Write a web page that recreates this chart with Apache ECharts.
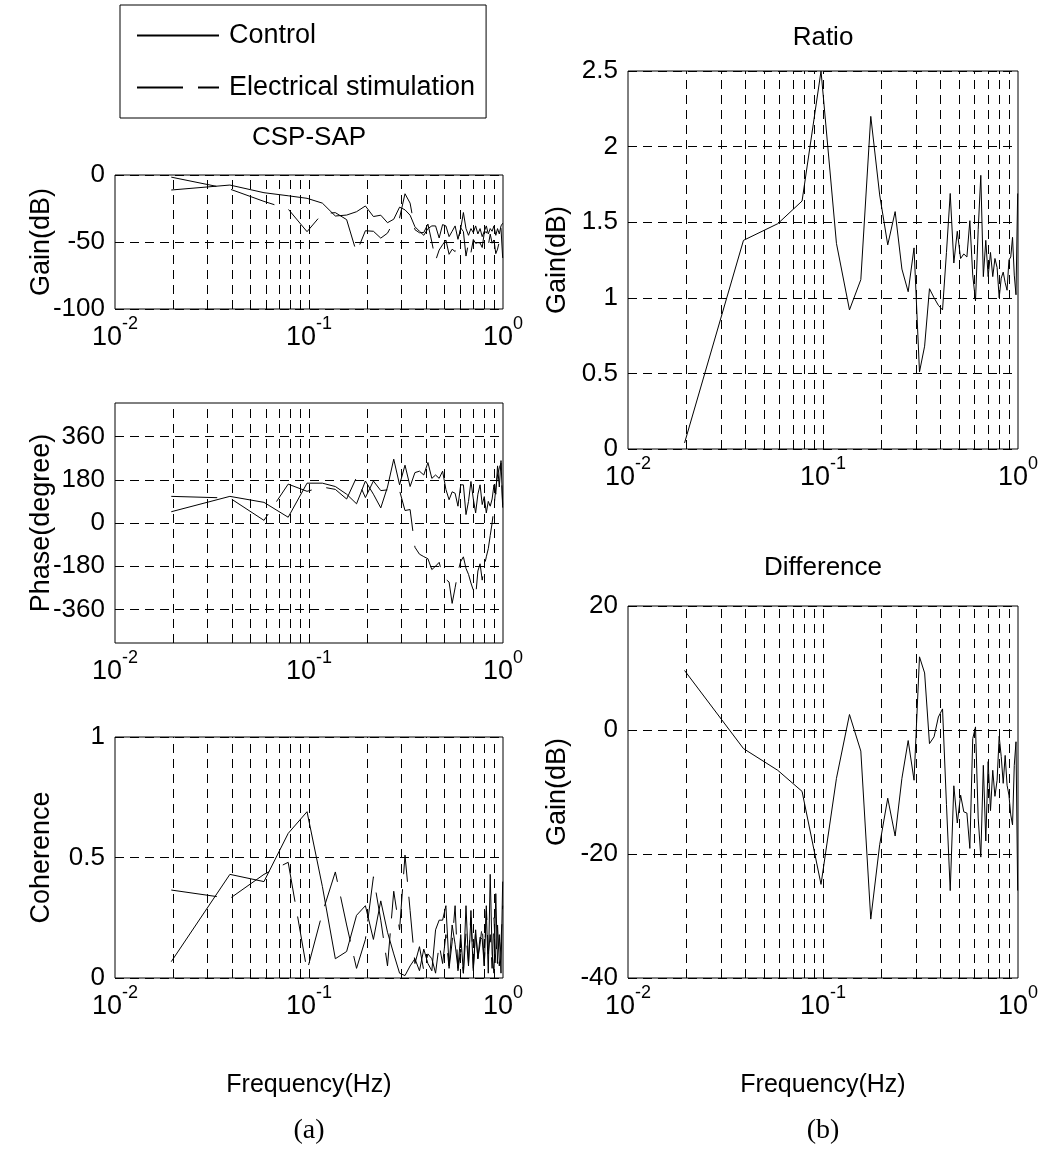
<!DOCTYPE html>
<html>
<head>
<meta charset="utf-8">
<title>CSP-SAP transfer function</title>
<script src="https://cdn.jsdelivr.net/npm/echarts@6/dist/echarts.min.js"></script>
<style>
  html, body { margin: 0; padding: 0; background: #fff; }
  #chart { width: 1044px; height: 1159px; }
</style>
</head>
<body>
<div id="chart"></div>
<script>
// frequency bins (Hz)
const freq = [0.0195, 0.0391, 0.0586, 0.0781, 0.0977, 0.1172, 0.1367, 0.1563, 0.1758, 0.1953,
  0.2148, 0.2344, 0.2539, 0.2734, 0.2930, 0.3125, 0.3320, 0.3516, 0.3711, 0.3906,
  0.4102, 0.4297, 0.4492, 0.4688, 0.4883, 0.5078, 0.5273, 0.5469, 0.5664, 0.5859,
  0.6055, 0.6250, 0.6445, 0.6641, 0.6836, 0.7031, 0.7227, 0.7422, 0.7617, 0.7813,
  0.8008, 0.8203, 0.8398, 0.8594, 0.8789, 0.8984, 0.9180, 0.9375, 0.9570, 0.9766, 0.9961]

const gainControl = [-11.2, -7.5, -13.2, -15.5, -17.4, -21, -30.6, -29.9, -27.4, -23.1,
  -31, -30, -35.6, -33, -24, -26, -30, -38.6, -42, -45,
  -40, -38, -38, -47, -37, -38, -46, -42, -38, -48,
  -40, -28, -40, -45, -40, -43, -38, -44, -40, -46,
  -42, -38, -44, -40, -42, -38, -45, -40, -44, -38, -36]
const gainStim = [-1.6, -10.5, -19.7, -25.4, -42.3, -28.8, -28.1, -33.3, -57.9, -41.6,
  -42, -47.1, -43.4, -34.7, -32, -14, -21, -40.8, -43.1, -42.9,
  -36.6, -50, -63.9, -56, -52, -48.5, -59.2, -55.4, -57.1, -49.4,
  -39.5, -42.2, -60.5, -50.7, -57.9, -48.1, -51, -50.5, -50.7, -54.1,
  -43, -42.3, -52.6, -44.1, -50.9, -48.5, -58.7, -55.3, -49.7, -39.9, -61.9]

const phaseControl = [47, 111, 86, 24, 166, 166, 152, 120, 80, 175,
  120, 63, 150, 266, 159, 241, 152, 210, 216, 200,
  252, 186, 200, 186, 216, 140, 97, 130, 124, 70,
  159, 159, 35, 90, 173, 100, 42, 120, 159, 77,
  110, 42, 90, 70, 100, 159, 120, 238, 150, 260, 77]
const phaseStim = [111, 104, 11, 162, 132, 150, 140, 100, 190, 106,
  175, 135, 138, 124, 135, 52, 56, -101, -130, -140,
  -149, -194, -180, -164, -219, -235, -246, -335, -270, -203,
  -160, -141, -189, -214, -250, -280, -307, -200, -170, -238,
  -180, -141, -107, -52, 0, 64, 146, 200, 230, 249, 64]

const cohControl = [0.068, 0.43, 0.40, 0.60, 0.69, 0.38, 0.08, 0.11, 0.26, 0.30,
  0.16, 0.32, 0.19, 0.10, 0.02, 0.01, 0.05, 0.08, 0.03, 0.12,
  0.06, 0.03, 0.20, 0.24, 0.24, 0.30, 0.05, 0.22, 0.14, 0.04,
  0.18, 0.02, 0.30, 0.06, 0.25, 0.03, 0.20, 0.08, 0.17, 0.16,
  0.05, 0.28, 0.02, 0.43, 0.10, 0.02, 0.35, 0.06, 0.18, 0.02, 0.40]
const cohStim = [0.365, 0.33, 0.43, 0.48, 0.03, 0.27, 0.44, 0.22, 0.04, 0.16,
  0.42, 0.24, 0.05, 0.36, 0.20, 0.51, 0.28, 0.06, 0.13, 0.03,
  0.10, 0.08, 0.02, 0.14, 0.06, 0.18, 0.04, 0.15, 0.30, 0.03,
  0.12, 0.02, 0.19, 0.05, 0.28, 0.04, 0.20, 0.08, 0.14, 0.22,
  0.05, 0.30, 0.10, 0.18, 0.04, 0.25, 0.06, 0.22, 0.05, 0.15, 0.30]

const ratio = [0.04, 1.38, 1.49, 1.64, 2.50, 1.36, 0.92, 1.12, 2.20, 1.68,
  1.35, 1.57, 1.19, 1.04, 1.33, 0.51, 0.68, 1.06, 1.0, 0.95,
  0.92, 1.30, 1.69, 1.23, 1.44, 1.26, 1.29, 1.27, 1.51, 1.15,
  0.98, 1.45, 1.81, 1.14, 1.38, 1.14, 1.30, 1.14, 1.26, 1.20,
  1.0, 1.13, 1.17, 1.10, 1.05, 1.25, 1.27, 1.40, 1.15, 1.02, 1.69]
const difference = [9.6, -3.0, -6.5, -9.9, -24.9, -7.8, 2.5, -3.4, -30.5, -18.5,
  -11.0, -17.1, -7.8, -1.7, -8.1, 11.8, 9.2, -2.2, -1.1, 2.1,
  3.4, -12, -25.9, -9.0, -15.0, -10.5, -13.2, -13.4, -19.1, -1.4,
  0.5, -14.2, -20.5, -5.7, -17.9, -5.1, -13.0, -6.5, -10.7, -8.1,
  -1.0, -4.3, -8.6, -4.1, -8.9, -10.5, -13.7, -15.3, -5.7, -1.9, -25.9]

// vertical dashed grid positions
const gridFreqs = [0.02, 0.03, 0.04, 0.05, 0.06, 0.07, 0.08, 0.09, 0.1,
  0.2, 0.3, 0.4, 0.5, 0.6, 0.7, 0.8, 0.9]
const phaseTicks = [-360, -180, 0, 180, 360]

const FONT = '"Liberation Sans", Arial, sans-serif'
const SERIF = '"Liberation Serif", "Times New Roman", serif'
const black = '#000'
const gridDash = [9, 6]

function pairs(ys) {
    return freq.map((f, i) => [f, ys[i]])
}

function xAxisFor(idx, withName) {
    return {
        type: 'log', logBase: 10, gridIndex: idx, min: 0.01, max: 1,
        axisLine: { show: false }, axisTick: { show: false }, splitLine: { show: false },
        axisLabel: {
            margin: 6,
            formatter: v => '{b|10}{s|' + Math.round(Math.log10(v)) + '}',
            rich: {
                b: { fontFamily: FONT, fontSize: 27, color: black, padding: [9, 0, 0, 0] },
                s: { fontFamily: FONT, fontSize: 18, color: black, verticalAlign: 'top' }
            }
        },
        name: withName ? 'Frequency(Hz)' : '',
        nameLocation: 'middle', nameGap: 95, nameMoveOverlap: false,
        nameTextStyle: { fontFamily: FONT, fontSize: 25, color: black }
    }
}

function yAxisFor(idx, name, opts) {
    return Object.assign({
        type: 'value', gridIndex: idx, name: name,
        nameLocation: 'middle', nameGap: 60, nameRotate: 90, nameMoveOverlap: false,
        nameTextStyle: { fontFamily: FONT, fontSize: 27, color: black },
        axisLine: { show: false }, axisTick: { show: false },
        axisLabel: { fontFamily: FONT, fontSize: 26, color: black, margin: 10 },
        splitLine: { show: true, lineStyle: { color: black, type: gridDash, width: 1 } }
    }, opts)
}

function lineSeries(name, idx, ys, dashed, withGrid) {
    let s = {
        type: 'line', name: name, xAxisIndex: idx, yAxisIndex: idx,
        data: pairs(ys), symbol: 'none', animation: false, z: 3,
        lineStyle: { color: black, width: 1, type: dashed ? [46, 15] : 'solid' },
        itemStyle: { color: black }
    }
    if (withGrid) {
        s.markLine = {
            silent: true, symbol: ['none', 'none'], animation: false,
            label: { show: false },
            lineStyle: { color: black, type: gridDash, width: 1 },
            data: gridFreqs.map(f => ({ xAxis: f }))
        }
    }
    return s
}

function label(text, x, y, size, family) {
    return {
        type: 'text', x: x, y: y, silent: true,
        style: { text: text, fontSize: size, fontFamily: family || FONT, fill: black, align: 'center', verticalAlign: 'middle' }
    }
}

let chart = echarts.init(document.getElementById('chart'))
chart.setOption({
    backgroundColor: '#fff',
    animation: false,
    legend: {
        data: ['Control', 'Electrical stimulation'],
        orient: 'vertical', left: 120, top: 5,
        itemWidth: 82, itemHeight: 30, itemGap: 25,
        padding: [17, 11, 17, 16],
        borderColor: black, borderWidth: 1,
        selectedMode: false,
        itemStyle: { color: 'rgba(0,0,0,0)', borderColor: 'rgba(0,0,0,0)', borderWidth: 0, opacity: 0 },
        textStyle: { fontFamily: FONT, fontSize: 27, color: black, padding: [0, 0, 0, 5] }
    },
    graphic: [
        label('CSP-SAP', 309, 138, 26),
        label('Ratio', 823, 38, 26),
        label('Difference', 823, 568, 26),
        label('(a)', 309, 1131, 28, SERIF),
        label('(b)', 823, 1131, 28, SERIF)
    ],
    grid: [
        { left: 115, top: 175, width: 388, height: 134 },
        { left: 115, top: 403, width: 388, height: 240 },
        { left: 115, top: 737, width: 388, height: 241 },
        { left: 628, top: 71, width: 390, height: 378 },
        { left: 628, top: 606, width: 390, height: 372 }
    ].map(g => Object.assign(g, { show: true, borderColor: black, borderWidth: 1 })),
    xAxis: [
        xAxisFor(0, false),
        xAxisFor(1, false),
        xAxisFor(2, true),
        xAxisFor(3, false),
        xAxisFor(4, true)
    ],
    yAxis: [
        yAxisFor(0, 'Gain(dB)', { min: -100, max: 0, interval: 50 }),
        yAxisFor(1, 'Phase(degree)', {
            min: -500, max: 500,
            axisTick: { show: false, customValues: phaseTicks },
            axisLabel: { fontFamily: FONT, fontSize: 26, color: black, margin: 10, customValues: phaseTicks }
        }),
        yAxisFor(2, 'Coherence', { min: 0, max: 1, interval: 0.5 }),
        yAxisFor(3, 'Gain(dB)', { min: 0, max: 2.5, interval: 0.5, nameGap: 57 }),
        yAxisFor(4, 'Gain(dB)', { min: -40, max: 20, interval: 20, nameGap: 57 })
    ],
    series: [
        lineSeries('Control', 0, gainControl, false, true),
        lineSeries('Electrical stimulation', 0, gainStim, true, false),
        lineSeries('Control', 1, phaseControl, false, true),
        lineSeries('Electrical stimulation', 1, phaseStim, true, false),
        lineSeries('Control', 2, cohControl, false, true),
        lineSeries('Electrical stimulation', 2, cohStim, true, false),
        lineSeries('Ratio', 3, ratio, false, true),
        lineSeries('Difference', 4, difference, false, true)
    ]
})
</script>
</body>
</html>
